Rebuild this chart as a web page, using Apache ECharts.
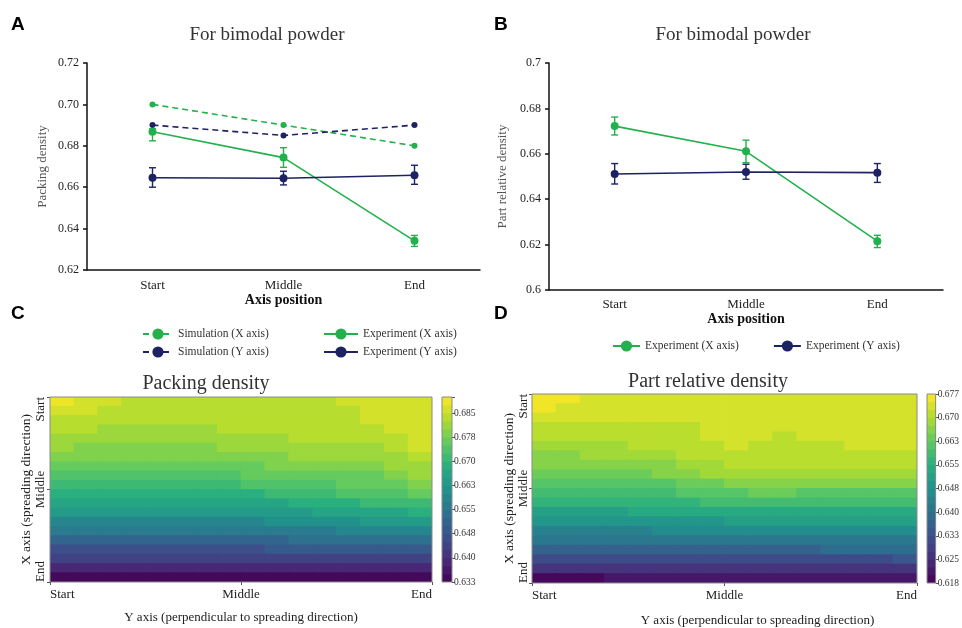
<!DOCTYPE html>
<html><head><meta charset="utf-8">
<script src="https://cdn.jsdelivr.net/npm/echarts@6/dist/echarts.min.js"></script>
<style>html,body{margin:0;padding:0;background:#fff}#c{width:962px;height:628px}</style>
</head><body><div id="c"></div>
<script>
// ---------- data ----------
const positions = ['Start', 'Middle', 'End'];
// Panel A : packing density
const simX_A = [0.700, 0.690, 0.680];
const simY_A = [0.690, 0.685, 0.690];
const expX_A = [0.6868, 0.6743, 0.6341];
const expX_A_low = [0.6824, 0.6696, 0.6314];
const expX_A_high = [0.6882, 0.6791, 0.6367];
const expY_A = [0.6646, 0.6643, 0.6658];
const expY_A_low = [0.6600, 0.6611, 0.6614];
const expY_A_high = [0.6694, 0.6677, 0.6706];
// Panel B : part relative density
const expX_B = [0.6722, 0.6611, 0.6215];
const expX_B_low = [0.6683, 0.6561, 0.6187];
const expX_B_high = [0.6762, 0.6660, 0.6241];
const expY_B = [0.6511, 0.6520, 0.6517];
const expY_B_low = [0.6467, 0.6488, 0.6474];
const expY_B_high = [0.6557, 0.6554, 0.6557];

// Panel C : packing density map (rows: X axis start->end, cols: Y axis start->end)
const packingRows = [
[0.6876,0.6866,0.6855,0.6848,0.6845,0.6843,0.6843,0.6845,0.6845,0.6846,0.6847,0.6848,0.6853,0.6858,0.6860,0.6862],
[0.6860,0.6851,0.6844,0.6839,0.6836,0.6836,0.6836,0.6842,0.6843,0.6844,0.6845,0.6846,0.6847,0.6855,0.6858,0.6860],
[0.6846,0.6839,0.6833,0.6830,0.6827,0.6826,0.6826,0.6837,0.6838,0.6840,0.6841,0.6842,0.6840,0.6851,0.6855,0.6858],
[0.6832,0.6826,0.6821,0.6819,0.6817,0.6815,0.6815,0.6828,0.6830,0.6833,0.6835,0.6836,0.6833,0.6843,0.6852,0.6856],
[0.6816,0.6812,0.6809,0.6807,0.6806,0.6805,0.6804,0.6815,0.6819,0.6823,0.6826,0.6826,0.6826,0.6833,0.6847,0.6854],
[0.6801,0.6797,0.6796,0.6794,0.6792,0.6791,0.6790,0.6803,0.6806,0.6809,0.6814,0.6814,0.6816,0.6823,0.6834,0.6850],
[0.6781,0.6779,0.6778,0.6777,0.6776,0.6775,0.6775,0.6787,0.6790,0.6794,0.6801,0.6803,0.6806,0.6811,0.6821,0.6836],
[0.6761,0.6760,0.6760,0.6759,0.6759,0.6759,0.6760,0.6768,0.6772,0.6775,0.6779,0.6782,0.6788,0.6797,0.6808,0.6821],
[0.6740,0.6740,0.6740,0.6740,0.6740,0.6741,0.6744,0.6748,0.6752,0.6755,0.6760,0.6764,0.6767,0.6774,0.6787,0.6804],
[0.6718,0.6718,0.6718,0.6718,0.6718,0.6718,0.6721,0.6723,0.6726,0.6731,0.6738,0.6746,0.6752,0.6757,0.6764,0.6776],
[0.6693,0.6693,0.6693,0.6693,0.6693,0.6693,0.6695,0.6697,0.6699,0.6704,0.6711,0.6720,0.6728,0.6735,0.6742,0.6751],
[0.6663,0.6663,0.6663,0.6663,0.6663,0.6663,0.6663,0.6665,0.6668,0.6674,0.6680,0.6688,0.6696,0.6704,0.6710,0.6717],
[0.6629,0.6629,0.6629,0.6629,0.6629,0.6629,0.6629,0.6630,0.6632,0.6639,0.6646,0.6653,0.6659,0.6666,0.6673,0.6680],
[0.6594,0.6594,0.6594,0.6594,0.6594,0.6594,0.6594,0.6595,0.6597,0.6603,0.6608,0.6614,0.6620,0.6626,0.6631,0.6637],
[0.6555,0.6555,0.6555,0.6555,0.6555,0.6555,0.6555,0.6556,0.6557,0.6562,0.6567,0.6572,0.6577,0.6582,0.6587,0.6592],
[0.6515,0.6515,0.6515,0.6515,0.6515,0.6515,0.6515,0.6516,0.6517,0.6521,0.6525,0.6529,0.6532,0.6536,0.6540,0.6544],
[0.6472,0.6472,0.6472,0.6472,0.6472,0.6472,0.6472,0.6473,0.6474,0.6477,0.6480,0.6483,0.6486,0.6489,0.6492,0.6496],
[0.6426,0.6426,0.6426,0.6426,0.6426,0.6426,0.6426,0.6426,0.6427,0.6430,0.6432,0.6434,0.6437,0.6439,0.6441,0.6444],
[0.6378,0.6378,0.6378,0.6378,0.6378,0.6378,0.6378,0.6378,0.6379,0.6380,0.6381,0.6383,0.6384,0.6386,0.6387,0.6388],
[0.6327,0.6327,0.6327,0.6327,0.6327,0.6327,0.6327,0.6327,0.6327,0.6328,0.6328,0.6329,0.6329,0.6330,0.6330,0.6331]
];
// Panel D : part relative density map
const partRows = [
[0.6763,0.6756,0.6749,0.6745,0.6742,0.6740,0.6742,0.6745,0.6746,0.6747,0.6747,0.6747,0.6748,0.6748,0.6749,0.6749],
[0.6751,0.6744,0.6739,0.6738,0.6736,0.6735,0.6738,0.6742,0.6744,0.6744,0.6742,0.6743,0.6744,0.6745,0.6746,0.6747],
[0.6736,0.6732,0.6729,0.6727,0.6726,0.6726,0.6731,0.6738,0.6740,0.6738,0.6735,0.6737,0.6739,0.6741,0.6742,0.6744],
[0.6723,0.6720,0.6718,0.6717,0.6718,0.6718,0.6724,0.6734,0.6736,0.6733,0.6729,0.6731,0.6734,0.6736,0.6738,0.6740],
[0.6707,0.6706,0.6705,0.6706,0.6709,0.6710,0.6716,0.6729,0.6731,0.6728,0.6723,0.6726,0.6729,0.6731,0.6733,0.6735],
[0.6690,0.6690,0.6691,0.6694,0.6700,0.6703,0.6708,0.6722,0.6726,0.6720,0.6716,0.6718,0.6721,0.6725,0.6728,0.6730],
[0.6672,0.6674,0.6675,0.6678,0.6684,0.6690,0.6701,0.6710,0.6715,0.6712,0.6710,0.6710,0.6711,0.6713,0.6716,0.6719],
[0.6654,0.6655,0.6656,0.6659,0.6665,0.6672,0.6682,0.6696,0.6703,0.6704,0.6703,0.6702,0.6701,0.6701,0.6700,0.6702],
[0.6633,0.6634,0.6635,0.6638,0.6643,0.6650,0.6660,0.6675,0.6683,0.6687,0.6687,0.6683,0.6680,0.6679,0.6680,0.6682],
[0.6608,0.6609,0.6610,0.6613,0.6618,0.6623,0.6632,0.6646,0.6655,0.6659,0.6659,0.6655,0.6652,0.6651,0.6652,0.6655],
[0.6581,0.6583,0.6584,0.6586,0.6590,0.6594,0.6602,0.6613,0.6621,0.6625,0.6626,0.6624,0.6621,0.6620,0.6621,0.6623],
[0.6553,0.6554,0.6555,0.6557,0.6561,0.6565,0.6571,0.6580,0.6586,0.6590,0.6592,0.6591,0.6590,0.6589,0.6589,0.6591],
[0.6519,0.6520,0.6521,0.6523,0.6525,0.6527,0.6532,0.6537,0.6540,0.6542,0.6544,0.6544,0.6545,0.6545,0.6546,0.6547],
[0.6483,0.6484,0.6486,0.6487,0.6490,0.6492,0.6495,0.6499,0.6500,0.6502,0.6503,0.6503,0.6504,0.6504,0.6506,0.6507],
[0.6443,0.6444,0.6446,0.6447,0.6449,0.6451,0.6454,0.6457,0.6458,0.6460,0.6461,0.6461,0.6461,0.6461,0.6463,0.6464],
[0.6400,0.6402,0.6403,0.6405,0.6406,0.6409,0.6413,0.6414,0.6416,0.6417,0.6419,0.6419,0.6420,0.6420,0.6422,0.6422],
[0.6355,0.6357,0.6358,0.6358,0.6362,0.6365,0.6367,0.6370,0.6372,0.6372,0.6373,0.6373,0.6375,0.6375,0.6377,0.6378],
[0.6304,0.6305,0.6305,0.6307,0.6311,0.6313,0.6314,0.6318,0.6318,0.6320,0.6321,0.6321,0.6323,0.6323,0.6323,0.6325],
[0.6252,0.6254,0.6254,0.6256,0.6258,0.6260,0.6262,0.6265,0.6265,0.6267,0.6267,0.6267,0.6269,0.6269,0.6271,0.6271],
[0.6197,0.6197,0.6199,0.6200,0.6200,0.6202,0.6204,0.6206,0.6208,0.6208,0.6210,0.6210,0.6210,0.6210,0.6212,0.6212]
];
// contour levels and colour-bar tick labels
const levelsC = [0.6325,0.635,0.6375,0.64,0.6425,0.645,0.6475,0.65,0.6525,0.655,0.6575,0.66,0.6625,0.665,0.6675,0.67,0.6725,0.675,0.6775,0.68,0.6825,0.685,0.6875,0.69];
const levelsD = [0.6175,0.62,0.6225,0.625,0.6275,0.63,0.6325,0.635,0.6375,0.64,0.6425,0.645,0.6475,0.65,0.6525,0.655,0.6575,0.66,0.6625,0.665,0.6675,0.67,0.6725,0.675,0.6775];
const cbarTicksC = ['0.633','0.640','0.648','0.655','0.663','0.670','0.678','0.685'];
const cbarTicksD = ['0.618','0.625','0.633','0.640','0.648','0.655','0.663','0.670','0.677'];

// ---------- styling helpers ----------
const SERIF = '"Liberation Serif", "Times New Roman", serif';
const GREEN = '#22b14c', NAVY = '#1d2263';
const VIR = ['#440154','#472d7b','#3b528b','#2c728e','#21918c','#28ae80','#5ec962','#addc30','#fde725'];
function hex(h){return [1,3,5].map(i=>parseInt(h.substr(i,2),16));}
function viridis(t){
  const n = VIR.length-1; const x = Math.min(Math.max(t,0),1)*n;
  const i = Math.min(Math.floor(x), n-1); const f = x-i;
  const a = hex(VIR[i]), b = hex(VIR[i+1]);
  return 'rgb(' + [0,1,2].map(j=>Math.round(a[j]+(b[j]-a[j])*f)).join(',') + ')';
}
function pieces(lv){
  const n = lv.length-1, out = [];
  for (let k=0;k<n;k++){
    const p = {color: viridis((k+0.5)/n)};
    if (k>0) p.gte = lv[k];
    if (k<n-1) p.lt = lv[k+1];
    out.push(p);
  }
  return out;
}
function heatData(rows){
  const d=[]; rows.forEach((r,i)=>r.forEach((v,j)=>d.push([j,i,v]))); return d;
}
function barData(lv){
  const d=[]; for(let k=0;k<lv.length-1;k++) d.push([0,k,(lv[k]+lv[k+1])/2]); return d;
}
function cellSeries(xi, yi, data){
  return {type:'custom', xAxisIndex:xi, yAxisIndex:yi, data:data, encode:{x:0, y:1}, silent:true, clip:true,
    renderItem:function(params, api){
      const c = api.coord([api.value(0), api.value(1)]);
      const s = api.size([1,1]);
      return {type:'rect', shape:{x:c[0]-s[0]/2-0.4, y:c[1]-s[1]/2-0.4, width:s[0]+0.8, height:s[1]+0.8},
        style:{fill: api.visual('color')}};
    }};
}
function errData(lo,hi){return lo.map((l,i)=>[i,l,hi[i]]);}
function errSeries(lo,hi,color,xi,yi){
  return {type:'custom', xAxisIndex:xi, yAxisIndex:yi, z:4, silent:true,
    data: errData(lo,hi), encode:{x:0,y:[1,2]},
    renderItem:function(params, api){
      const p1 = api.coord([api.value(0), api.value(2)]);
      const p2 = api.coord([api.value(0), api.value(1)]);
      const w = 3.5, st = {stroke: color, lineWidth: 1.4};
      return {type:'group', children:[
        {type:'line', shape:{x1:p1[0],y1:p1[1],x2:p2[0],y2:p2[1]}, style:st},
        {type:'line', shape:{x1:p1[0]-w,y1:p1[1],x2:p1[0]+w,y2:p1[1]}, style:st},
        {type:'line', shape:{x1:p2[0]-w,y1:p2[1],x2:p2[0]+w,y2:p2[1]}, style:st}
      ]};
    }};
}
function lineSeries(name,data,color,dashed,xi,yi,size){
  return {type:'line', name:name, data:data, xAxisIndex:xi, yAxisIndex:yi, z:3,
    symbol:'circle', symbolSize:size, itemStyle:{color:color},
    lineStyle:{color:color, width:1.6, type: dashed?[6,4]:'solid'}, emphasis:{disabled:true}};
}
const axisText = {fontFamily:SERIF, color:'#222'};
function catX(grid, margin){
  return {gridIndex:grid, type:'category', data:positions, boundaryGap:true,
    axisLine:{lineStyle:{color:'#111', width:1.5}},
    axisTick:{alignWithLabel:true, length:4, lineStyle:{color:'#111', width:1.5}},
    axisLabel:Object.assign({fontSize:13, margin:margin}, axisText),
    name:'Axis position', nameLocation:'middle',
    nameTextStyle:{fontFamily:SERIF, fontSize:14, fontWeight:'bold', color:'#111'}};
}
function hiddenCat(grid, n, inverse){
  return {gridIndex:grid, type:'category', data:Array.from({length:n},(_, i)=>i), show:false, inverse:!!inverse, boundaryGap:true};
}
function posX(grid, gap, pad){
  return {gridIndex:grid, type:'value', min:0, max:2, interval:1, position:'bottom',
    axisLine:{show:false}, splitLine:{show:false},
    axisTick:{show:true, length:3, lineStyle:{color:'#555'}},
    axisLabel:Object.assign({fontSize:13, margin:6, formatter:v=>positions[v], alignMinLabel:'left', alignMaxLabel:'right'}, axisText),
    name:'Y axis (perpendicular to spreading direction)', nameLocation:'middle', nameGap:gap,
    nameTextStyle:{fontFamily:SERIF, fontSize:13, color:'#222', padding:pad}};
}
function posY(grid, margin, gap){
  return {gridIndex:grid, type:'value', min:0, max:2, interval:1, inverse:true, position:'left',
    axisLine:{show:false}, splitLine:{show:false},
    axisTick:{show:true, length:3, lineStyle:{color:'#555'}},
    axisLabel:Object.assign({fontSize:13, margin:margin, rotate:90, formatter:v=>positions[v], alignMinLabel:'right', alignMaxLabel:'left'}, axisText),
    name:'X axis (spreading direction)', nameLocation:'middle', nameGap:gap,
    nameTextStyle:{fontFamily:SERIF, fontSize:13.5, color:'#222'}};
}
function cbarY(grid, lv, ticks){
  const mn = lv[0];
  return {gridIndex:grid, type:'value', min:mn, max:lv[lv.length-1], interval:0.0075, position:'right',
    axisLine:{show:false}, splitLine:{show:false},
    axisTick:{show:true, length:3, lineStyle:{color:'#555'}},
    axisLabel:{fontFamily:SERIF, fontSize:9.5, color:'#333', margin:2,
      formatter:v=>{const i=Math.round((v-mn)/0.0075); const ok=Math.abs(v-mn-i*0.0075)<1e-6; return ok&&ticks[i]?ticks[i]:'';}}};
}
const gridBox = {show:true, z:10, backgroundColor:'transparent', borderColor:'#8a8a8a', borderWidth:1};

const option = {
  animation:false,
  backgroundColor:'#fff',
  grid:[
    {left:87, top:63, width:393, height:207},
    {left:549, top:63, width:394, height:227},
    Object.assign({left:50, top:397, width:382, height:185}, gridBox),
    Object.assign({left:442, top:397, width:10, height:185}, gridBox),
    Object.assign({left:532, top:394, width:385, height:189}, gridBox),
    Object.assign({left:927, top:394, width:10, height:189}, gridBox)
  ],
  xAxis:[
    Object.assign(catX(0, 9), {nameGap:23}),
    Object.assign(catX(1, 8), {nameGap:21}),
    hiddenCat(2, 16),
    posX(2, 29, [0,0,0,0]),
    hiddenCat(3, 1),
    hiddenCat(4, 16),
    posX(4, 31, [0,0,0,66]),
    hiddenCat(5, 1)
  ],
  yAxis:[
    {gridIndex:0, type:'value', min:0.62, max:0.72, interval:0.02,
      axisLine:{show:true, lineStyle:{color:'#111', width:1.5}},
      axisTick:{show:true, length:4, lineStyle:{color:'#111', width:1.5}}, splitLine:{show:false},
      axisLabel:Object.assign({fontSize:12, margin:8, formatter:v=>v.toFixed(2)}, axisText),
      name:'Packing density', nameLocation:'middle', nameGap:38,
      nameTextStyle:{fontFamily:SERIF, fontSize:13, color:'#555'}},
    {gridIndex:1, type:'value', min:0.6, max:0.7, interval:0.02,
      axisLine:{show:true, lineStyle:{color:'#111', width:1.5}},
      axisTick:{show:true, length:4, lineStyle:{color:'#111', width:1.5}}, splitLine:{show:false},
      axisLabel:Object.assign({fontSize:12, margin:8}, axisText),
      name:'Part relative density', nameLocation:'middle', nameGap:40,
      nameTextStyle:{fontFamily:SERIF, fontSize:13, color:'#555'}},
    hiddenCat(2, 20, true),
    posY(2, 3, 17),
    hiddenCat(3, levelsC.length-1),
    cbarY(3, levelsC, cbarTicksC),
    hiddenCat(4, 20, true),
    posY(4, 2, 14),
    hiddenCat(5, levelsD.length-1),
    cbarY(5, levelsD, cbarTicksD)
  ],
  legend:[
    {orient:'vertical', left:137, top:323, itemWidth:30, itemHeight:14, itemGap:6,
      data:['Simulation (X axis)','Simulation (Y axis)'],
      textStyle:{fontFamily:SERIF, fontSize:11.5, color:'#333'}, selectedMode:false},
    {orient:'vertical', left:318, top:323, itemWidth:34, itemHeight:14, itemGap:6,
      data:['Experiment (X axis)','Experiment (Y axis)'],
      textStyle:{fontFamily:SERIF, fontSize:11.5, color:'#333'}, selectedMode:false},
    {orient:'horizontal', left:607, top:335, itemWidth:27, itemHeight:14, itemGap:34,
      data:['Experiment (X axis)','Experiment (Y axis)'],
      textStyle:{fontFamily:SERIF, fontSize:11.5, color:'#333'}, selectedMode:false}
  ],
  visualMap:[
    {type:'piecewise', show:false, dimension:2, seriesIndex:[10,11], pieces:pieces(levelsC)},
    {type:'piecewise', show:false, dimension:2, seriesIndex:[12,13], pieces:pieces(levelsD)}
  ],
  graphic:[
    {type:'text', x:11, y:15, style:{text:'A', font:'bold 19px "Liberation Sans", Arial, sans-serif', fill:'#000'}},
    {type:'text', x:494, y:15, style:{text:'B', font:'bold 19px "Liberation Sans", Arial, sans-serif', fill:'#000'}},
    {type:'text', x:11, y:304, style:{text:'C', font:'bold 19px "Liberation Sans", Arial, sans-serif', fill:'#000'}},
    {type:'text', x:494, y:304, style:{text:'D', font:'bold 19px "Liberation Sans", Arial, sans-serif', fill:'#000'}},
    {type:'text', x:267, y:35, style:{text:'For bimodal powder', align:'center', verticalAlign:'middle', font:'19px '+SERIF, fill:'#333'}},
    {type:'text', x:733, y:35, style:{text:'For bimodal powder', align:'center', verticalAlign:'middle', font:'19px '+SERIF, fill:'#333'}},
    {type:'text', x:206, y:384, style:{text:'Packing density', align:'center', verticalAlign:'middle', font:'20px '+SERIF, fill:'#333'}},
    {type:'text', x:708, y:382, style:{text:'Part relative density', align:'center', verticalAlign:'middle', font:'20px '+SERIF, fill:'#333'}}
  ],
  series:[
    lineSeries('Simulation (X axis)', simX_A, GREEN, true, 0, 0, 6),
    lineSeries('Simulation (Y axis)', simY_A, NAVY, true, 0, 0, 6),
    lineSeries('Experiment (X axis)', expX_A, GREEN, false, 0, 0, 8),
    lineSeries('Experiment (Y axis)', expY_A, NAVY, false, 0, 0, 8),
    errSeries(expX_A_low, expX_A_high, GREEN, 0, 0),
    errSeries(expY_A_low, expY_A_high, NAVY, 0, 0),
    lineSeries('Experiment (X axis)', expX_B, GREEN, false, 1, 1, 8),
    lineSeries('Experiment (Y axis)', expY_B, NAVY, false, 1, 1, 8),
    errSeries(expX_B_low, expX_B_high, GREEN, 1, 1),
    errSeries(expY_B_low, expY_B_high, NAVY, 1, 1),
    cellSeries(2, 2, heatData(packingRows)),
    cellSeries(4, 4, barData(levelsC)),
    cellSeries(5, 6, heatData(partRows)),
    cellSeries(7, 8, barData(levelsD))
  ]
};
const chart = echarts.init(document.getElementById('c'), null, {renderer:'canvas'});
chart.setOption(option);
</script>
</body></html>
